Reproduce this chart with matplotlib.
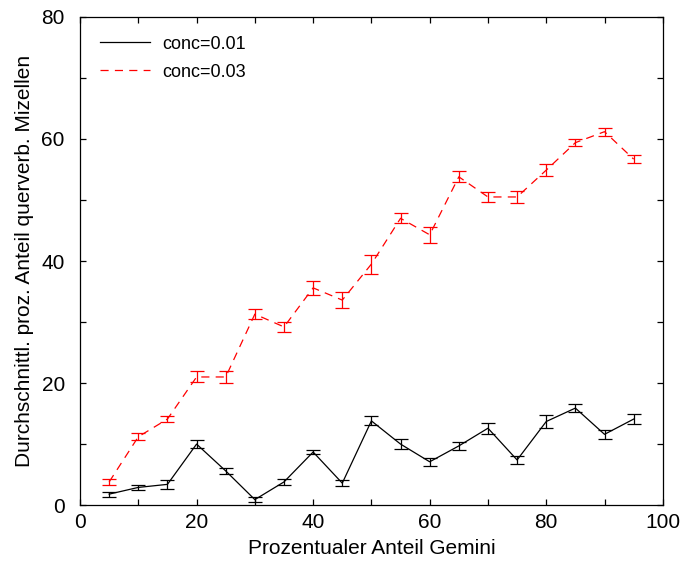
import matplotlib
matplotlib.use("Agg")
import matplotlib.pyplot as plt
from matplotlib.lines import Line2D
from matplotlib.ticker import MultipleLocator

plt.rcParams["font.family"] = ["Liberation Sans", "DejaVu Sans"]

anteil = [5, 10, 15, 20, 25, 30, 35, 40, 45, 50, 55, 60, 65, 70, 75, 80, 85, 90, 95]

conc_001 = [1.8, 2.9, 3.4, 10.0, 5.6, 0.9, 3.8, 8.7, 3.6, 13.8,
            10.0, 7.1, 9.7, 12.6, 7.4, 13.7, 15.9, 11.6, 14.1]
err_001 = [0.4, 0.4, 0.7, 0.65, 0.45, 0.35, 0.55, 0.4, 0.5, 0.75,
           0.85, 0.7, 0.7, 0.9, 0.6, 1.0, 0.6, 0.7, 0.8]

conc_003 = [3.8, 11.2, 14.1, 21.0, 21.0, 31.3, 29.2, 35.6, 33.6, 39.5,
            47.0, 44.3, 53.8, 50.5, 50.5, 54.9, 59.4, 61.2, 56.7]
err_003 = [0.5, 0.55, 0.5, 0.9, 1.0, 0.8, 0.8, 1.15, 1.35, 1.55,
           0.8, 1.35, 0.9, 0.85, 1.05, 0.95, 0.6, 0.65, 0.65]

labels = ["conc=0.01", "conc=0.03"]
dash = (6.5, 5)

fig = plt.figure(figsize=(6.84, 5.65), dpi=100)
ax = fig.add_axes([0.117, 0.106, 0.852, 0.864])

ax.errorbar(anteil, conc_001, yerr=err_001, color="black", lw=0.9,
            capsize=4.8, capthick=0.9, elinewidth=0.9)
line, caps, bars = ax.errorbar(anteil, conc_003, yerr=err_003, color="red", lw=0.9,
                               capsize=4.8, capthick=0.9, elinewidth=0.9)
line.set_dashes(dash)

ax.set_xlim(0, 100)
ax.set_ylim(0, 80)
ax.xaxis.set_major_locator(MultipleLocator(20))
ax.xaxis.set_minor_locator(MultipleLocator(10))
ax.yaxis.set_major_locator(MultipleLocator(20))
ax.yaxis.set_minor_locator(MultipleLocator(10))
ax.tick_params(which="both", direction="in", top=True, right=True,
               length=4.5, width=0.9, labelsize=15)
ax.tick_params(axis="x", pad=5.5)
ax.tick_params(axis="y", pad=11)
for s in ax.spines.values():
    s.set_linewidth(0.9)

ax.set_xlabel("Prozentualer Anteil Gemini", fontsize=15, labelpad=5)
ax.set_ylabel("Durchschnittl. proz. Anteil querverb. Mizellen", fontsize=15, labelpad=5)

handles = [Line2D([], [], color="black", lw=0.9),
           Line2D([], [], color="red", lw=0.9, dashes=dash)]
ax.legend(handles, labels, loc="upper left", bbox_to_anchor=(0.034, 0.962),
          frameon=False, fontsize=13, handlelength=2.77, borderpad=0,
          borderaxespad=0, handletextpad=0.66, labelspacing=0.62)

fig.savefig("out.png", dpi=100)
